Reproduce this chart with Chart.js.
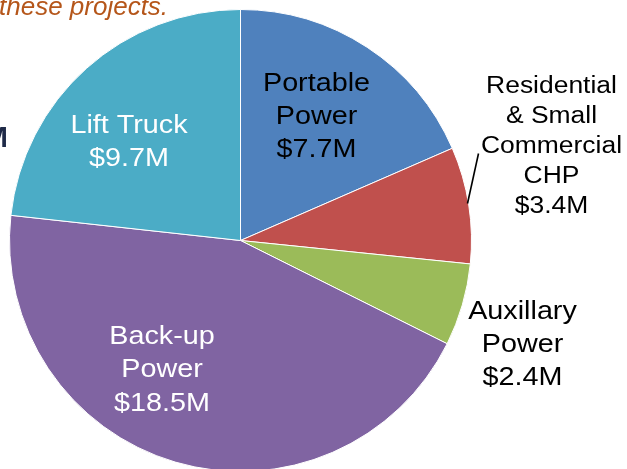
<!DOCTYPE html>
<html lang="en">
<head>
    <meta charset="UTF-8">
    <title>Funding by application</title>
    <style>
        body{
            margin: 0;
            overflow: hidden;
            background: #ffffff;
        }
        #wrap{
            position: relative;
            width: 627px;
            height: 472px;
        }
    </style>
</head>
<body>
    <div id="wrap">
        <canvas id="grafik-pie"></canvas>
    </div>

    <script src="https://cdn.jsdelivr.net/npm/chart.js"></script>
    <script>
        // data
        const categories = ["Portable Power", "Residential & Small Commercial CHP", "Auxillary Power", "Back-up Power", "Lift Truck"]
        const funding = [7.7, 3.4, 2.4, 18.5, 9.7]
        const labelLines = [
            ["Portable", "Power", "$7.7M"],
            ["Residential", "& Small", "Commercial", "CHP", "$3.4M"],
            ["Auxillary", "Power", "$2.4M"],
            ["Back-up", "Power", "$18.5M"],
            ["Lift Truck", "$9.7M"]
        ]
        const sliceColors = ["#4F81BD", "#C0504D", "#9BBB59", "#8064A2", "#4BACC6"]

        // label placement, relative to the pie centre
        const labelLayout = [
            {dx: 76, dy: -150, lh: 33, size: 25, color: "#000000"},
            {dx: 311, dy: -148, lh: 30.2, size: 23, color: "#000000"},
            {dx: 282, dy: 78, lh: 33, size: 25, color: "#000000"},
            {dx: -78.5, dy: 103, lh: 33.5, size: 25, color: "#ffffff"},
            {dx: -111.5, dy: -108, lh: 33, size: 25, color: "#ffffff"}
        ]

        const sliceLabels = {
            id: 'sliceLabels',
            afterDatasetsDraw(chart){
                const ctx = chart.ctx
                const arcs = chart.getDatasetMeta(0).data
                ctx.save()
                arcs.forEach((arc, i) => {
                    const lay = labelLayout[i]
                    ctx.fillStyle = lay.color
                    ctx.font = lay.size + 'px "Liberation Sans", Arial, sans-serif'
                    ctx.textAlign = 'center'
                    ctx.textBaseline = 'alphabetic'
                    labelLines[i].forEach((line, j) => {
                        ctx.save()
                        ctx.translate(arc.x + lay.dx, arc.y + lay.dy + j * lay.lh)
                        ctx.scale(1.15, 1)
                        ctx.fillText(line, 0, 0)
                        ctx.restore()
                    })
                })

                // leader line for the small slice
                const c = arcs[1]
                ctx.strokeStyle = '#000000'
                ctx.lineWidth = 1.6
                ctx.beginPath()
                ctx.moveTo(c.x + 227, c.y - 37)
                ctx.lineTo(c.x + 238, c.y - 87)
                ctx.stroke()

                // cut-off text from the slide around the chart
                ctx.fillStyle = '#B5561A'
                ctx.font = 'italic 26px "Liberation Sans", Arial, sans-serif'
                ctx.textAlign = 'left'
                ctx.fillText("these projects.", -1, 15)

                ctx.fillStyle = '#1F2A48'
                ctx.font = 'bold 29px "Liberation Sans", Arial, sans-serif'
                ctx.textAlign = 'right'
                ctx.fillText("M", 8, 147)
                ctx.restore()
            }
        }

        new Chart(document.getElementById('grafik-pie'), {
            type: 'pie',
            data: {
                labels: categories,
                datasets: [{
                    data: funding,
                    backgroundColor: sliceColors,
                    borderColor: '#ffffff',
                    borderWidth: 1
                }]
            },
            options: {
                responsive: true,
                maintainAspectRatio: false,
                animation: false,
                layout: {
                    padding: {left: 9, top: 9, right: 155, bottom: 0}
                },
                plugins: {
                    legend: {display: false},
                    tooltip: {enabled: false}
                }
            },
            plugins: [sliceLabels]
        });
    </script>
</body>
</html>
